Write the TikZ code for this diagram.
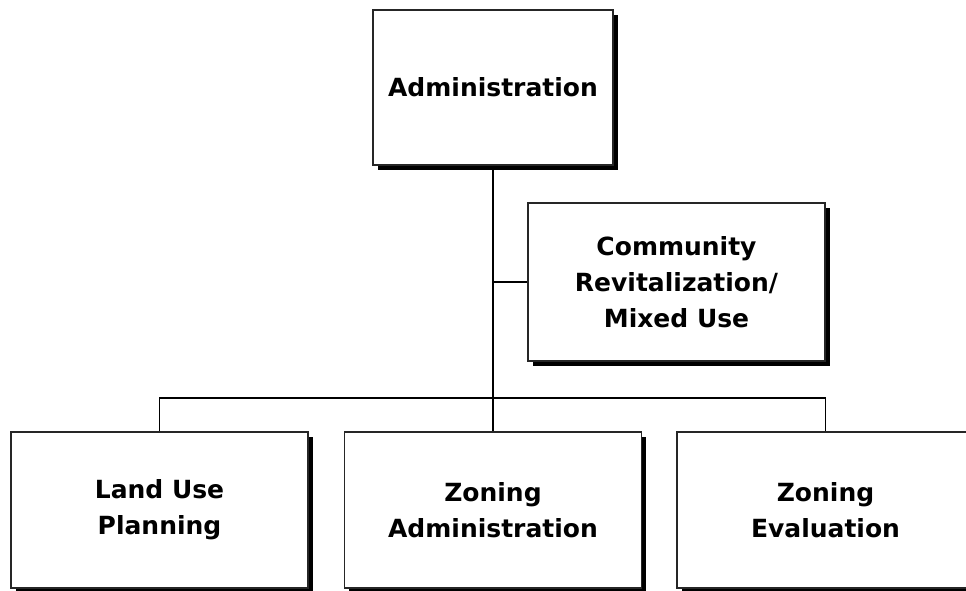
\documentclass[tikz,border=0pt]{standalone}
\usepackage{fontspec}
\setmainfont{DejaVu Sans}
\usetikzlibrary{shadows}
\begin{document}
\begin{tikzpicture}[x=1pt,y=-1pt,
  orgbox/.style={draw=black!85, line width=1.8pt, fill=white, inner sep=0pt,
    align=center, font=\fontsize{25}{36}\selectfont\bfseries,
    drop shadow={shadow xshift=4.5pt, shadow yshift=-4.5pt, fill=black, opacity=1}},
  link/.style={line width=1.5pt, black}]
\clip (0,0) rectangle (966,590);
\useasboundingbox (0,0) rectangle (966,590);
\node[orgbox, minimum width=240pt, minimum height=155pt] (admin) at (493,87.5) {Administration};
\node[orgbox, minimum width=297pt, minimum height=158pt] (comm) at (676.5,282) {Community\\Revitalization/\\Mixed Use};
\node[orgbox, minimum width=297pt, minimum height=156pt] (lup) at (159.5,510) {Land Use\\Planning};
\node[orgbox, minimum width=297pt, minimum height=156pt] (zad) at (493,510) {Zoning\\Administration};
\node[orgbox, minimum width=297pt, minimum height=156pt] (zev) at (825.5,510) {Zoning\\Evaluation};
\coordinate (bus) at (493,398);
\draw[link] (admin.south) -- (bus);
\draw[link] (admin.south |- comm.west) -- (comm.west);
\draw[link] (lup.north) |- (bus) -| (zev.north);
\draw[link] (bus) -- (zad.north);
\end{tikzpicture}
\end{document}
